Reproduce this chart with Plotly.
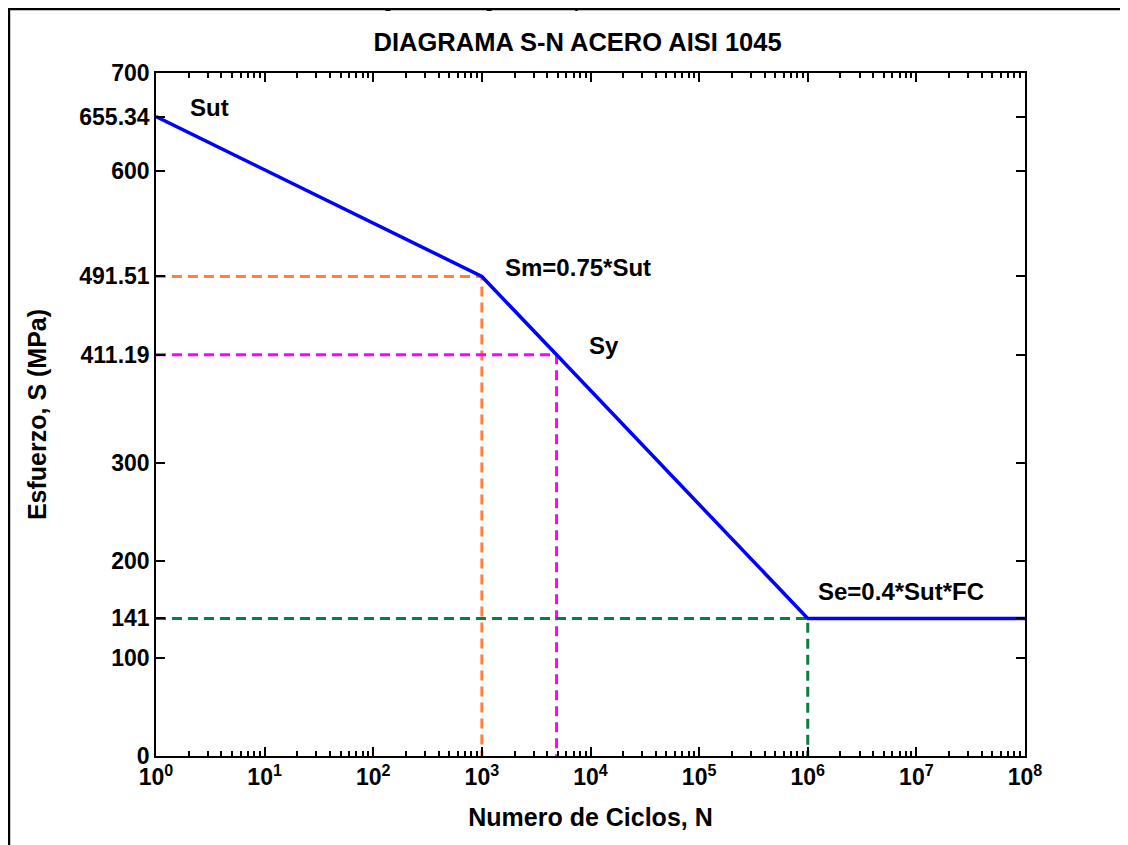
import plotly.graph_objects as go

# ---- data ----
curve_N = [1, 1000, 4870, 1e6, 1e8]
curve_S = [655.34, 491.51, 411.19, 141, 141]

N_sm, S_sm = 1000, 491.51
N_sy, S_sy = 4870, 411.19
N_se, S_se = 1e6, 141

y_ticks = [0, 100, 141, 200, 300, 411.19, 491.51, 600, 655.34, 700]
y_ticktext = ["0", "100", "141", "200", "300", "411.19", "491.51", "600", "655.34", "700"]
x_exps = [0, 1, 2, 3, 4, 5, 6, 7, 8]

labels = ["Sut", "Sm=0.75*Sut", "Sy", "Se=0.4*Sut*FC"]
label_logx = [0.29, 3.195, 3.97, 6.077]
label_y = [665, 501, 421, 169]

FONT = "Liberation Sans, Arial, Helvetica, sans-serif"

fig = go.Figure()

def dashed(xs, ys, color):
    fig.add_trace(go.Scatter(x=xs, y=ys, mode="lines",
                             line=dict(color=color, width=3, dash="10px,6px"),
                             showlegend=False, hoverinfo="skip"))

dashed([1, N_sm, N_sm], [S_sm, S_sm, 0], "#FF8040")
dashed([1, N_sy, N_sy], [S_sy, S_sy, 0], "#FF00FF")
dashed([1, N_se, N_se], [S_se, S_se, 0], "#0A8040")

fig.add_trace(go.Scatter(x=curve_N, y=curve_S, mode="lines",
                         line=dict(color="#0000FF", width=3.5),
                         showlegend=False, hoverinfo="skip"))

for t, lx, ly in zip(labels, label_logx, label_y):
    fig.add_annotation(x=lx, y=ly, xref="x", yref="y", text=t, showarrow=False,
                       xanchor="left", yanchor="middle",
                       font=dict(family=FONT, size=24, color="black", weight="bold"))

# cut-off caption at the top
fig.add_annotation(x=0.4695, y=1.1025, xref="paper", yref="paper",
                   text="Figura 4.2. Diagrama S-N para el acero AISI 1045",
                   showarrow=False, xanchor="center", yanchor="middle",
                   font=dict(family=FONT, size=17, color="black", weight="bold"))

# outer frame
fig.add_shape(type="rect", xref="paper", yref="paper",
              x0=-0.1692, x1=1.3, y0=-0.3, y1=1.0937,
              line=dict(color="black", width=2.5), fillcolor="rgba(0,0,0,0)")

minor_vals = [m * 10 ** k for k in range(8) for m in range(2, 10)]

fig.update_xaxes(type="log", range=[0, 8],
                 tickvals=[10 ** e for e in x_exps],
                 ticktext=["10<sup>%d</sup>" % e for e in x_exps],
                 ticks="inside", ticklen=9, tickwidth=1.5, tickcolor="black",
                 minor=dict(tickvals=minor_vals, ticks="inside", ticklen=5,
                            tickwidth=1.5, tickcolor="black", showgrid=False),
                 showline=True, linecolor="black", linewidth=1.5, mirror="ticks",
                 showgrid=False, zeroline=False,
                 tickfont=dict(family=FONT, size=23, color="black", weight="bold"),
                 title=dict(text="Numero de Ciclos, N", standoff=19,
                            font=dict(family=FONT, size=25, color="black", weight="bold")))

fig.update_yaxes(range=[0, 700], tickvals=y_ticks, ticktext=y_ticktext,
                 ticks="inside", ticklen=9, tickwidth=1.5, tickcolor="black",
                 showline=True, linecolor="black", linewidth=1.5, mirror="ticks",
                 showgrid=False, zeroline=False,
                 tickfont=dict(family=FONT, size=23, color="black", weight="bold"),
                 title=dict(text="Esfuerzo, S (MPa)", standoff=26,
                            font=dict(family=FONT, size=25, color="black", weight="bold")))

fig.update_layout(
    width=1128, height=845,
    margin=dict(l=148, r=111, t=65, b=97),
    paper_bgcolor="white", plot_bgcolor="white",
    title=dict(text="DIAGRAMA S-N ACERO AISI 1045", x=0.505, xanchor="center",
               y=0.96, yanchor="middle", yref="container",
               font=dict(family=FONT, size=25.5, color="black", weight="bold")),
)

fig.write_html("out.html")
